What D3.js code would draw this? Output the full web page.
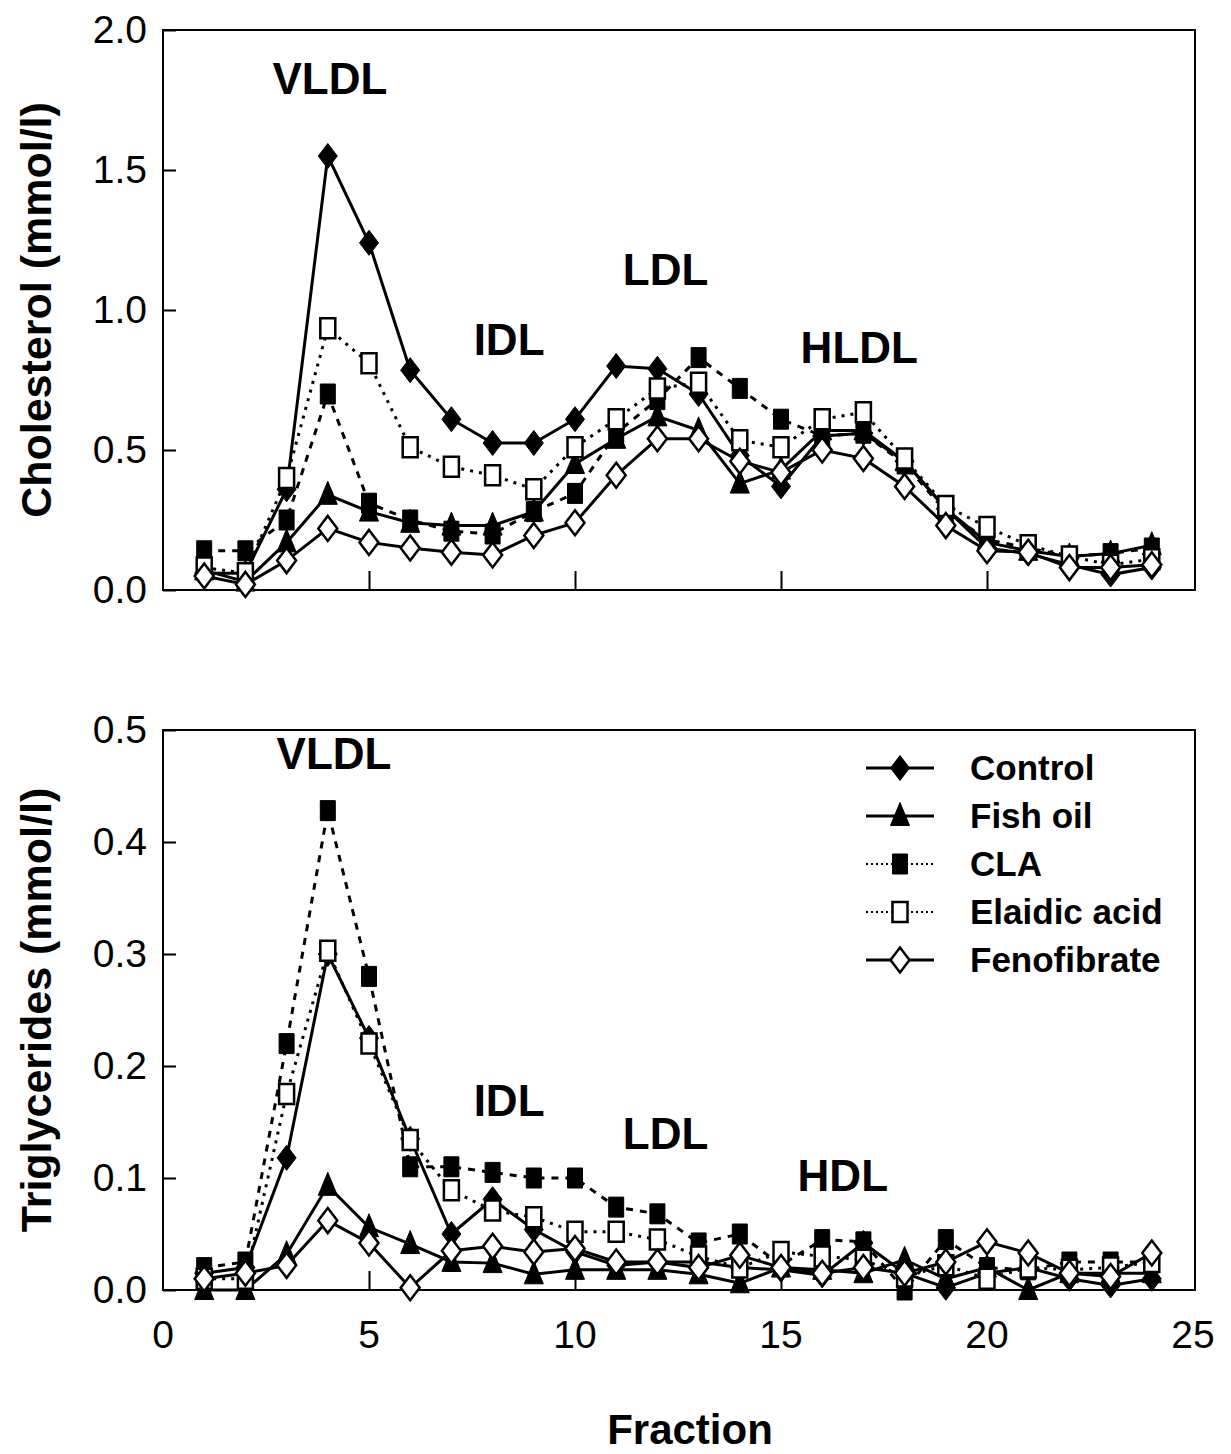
<!DOCTYPE html>
<html>
<head>
<meta charset="utf-8">
<script src="https://cdn.jsdelivr.net/npm/d3@7"></script>
<style>
  html, body { margin: 0; padding: 0; background: #fff; }
  svg { display: block; }
  text { font-family: "Liberation Sans", Arial, sans-serif; fill: #000; }
</style>
</head>
<body>
<script>
// ---------------- DATA ----------------
const fractions = [1,2,3,4,5,6,7,8,9,10,11,12,13,14,15,16,17,18,19,20,21,22,23,24];
const seriesNames = ["Control", "Fish oil", "CLA", "Elaidic acid", "Fenofibrate"];

// Cholesterol (mmol/l)
const cholControl     = [0.06,0.06,0.36,1.55,1.24,0.785,0.61,0.525,0.525,0.61,0.80,0.79,0.70,0.48,0.37,0.55,0.56,0.46,0.29,0.15,0.13,0.09,0.055,0.08];
const cholFishOil     = [0.07,0.03,0.17,0.34,0.28,0.24,0.23,0.23,0.28,0.45,0.54,0.62,0.57,0.38,0.43,0.57,0.57,0.46,0.29,0.17,0.14,0.12,0.13,0.16];
const cholCLA         = [0.14,0.14,0.25,0.70,0.31,0.25,0.21,0.20,0.28,0.345,0.56,0.68,0.83,0.72,0.61,0.55,0.56,0.45,0.28,0.18,0.15,0.12,0.13,0.15];
const cholElaidic     = [0.08,0.06,0.40,0.935,0.81,0.51,0.44,0.41,0.36,0.51,0.61,0.72,0.74,0.535,0.51,0.61,0.635,0.47,0.30,0.225,0.16,0.12,0.09,0.11];
const cholFenofibrate = [0.05,0.02,0.105,0.22,0.17,0.15,0.135,0.125,0.195,0.24,0.41,0.54,0.54,0.46,0.42,0.50,0.47,0.37,0.23,0.14,0.135,0.08,0.08,0.09];

// Triglycerides (mmol/l)
const tgControl     = [0.015,0.02,0.118,0.30,0.225,0.135,0.05,0.081,0.054,0.034,0.022,0.025,0.025,0.02,0.018,0.013,0.042,0.015,0.002,0.015,0.02,0.01,0.004,0.01];
const tgFishOil     = [0.0,0.0,0.032,0.093,0.056,0.041,0.025,0.024,0.014,0.018,0.018,0.018,0.014,0.006,0.02,0.018,0.015,0.027,0.01,0.02,0.0,0.015,0.015,0.015];
const tgCLA         = [0.02,0.025,0.22,0.428,0.28,0.11,0.11,0.105,0.10,0.10,0.074,0.068,0.042,0.05,0.022,0.045,0.043,0.0,0.045,0.02,0.018,0.025,0.025,0.025];
const tgElaidic     = [0.01,0.01,0.175,0.303,0.22,0.134,0.089,0.071,0.065,0.052,0.052,0.045,0.03,0.02,0.034,0.03,0.027,0.012,0.022,0.01,0.02,0.018,0.02,0.025];
const tgFenofibrate = [0.01,0.015,0.022,0.062,0.042,0.002,0.035,0.039,0.034,0.037,0.025,0.025,0.02,0.031,0.02,0.015,0.02,0.015,0.025,0.043,0.033,0.015,0.012,0.033];

const xTicks = [0,5,10,15,20,25];
const cholTicks = [0.0,0.5,1.0,1.5,2.0];
const tgTicks = [0.0,0.1,0.2,0.3,0.4,0.5];

const cholLabels = [{t:"VLDL", x:4.05, y:1.77},{t:"IDL", x:8.4, y:0.84},{t:"LDL", x:12.2, y:1.09},{t:"HLDL", x:16.9, y:0.81}];
const tgLabels = [{t:"VLDL", x:4.15, y:0.465},{t:"IDL", x:8.4, y:0.155},{t:"LDL", x:12.2, y:0.126},{t:"HDL", x:16.5, y:0.088}];

// ---------------- STYLE ----------------
const W = 1231, H = 1454;
const left = 163, right = 1195;
const styles = {
  "Control":      {marker:"diamond",  fill:"#000", dash:null},
  "Fish oil":     {marker:"triangle", fill:"#000", dash:null},
  "CLA":          {marker:"square",   fill:"#000", dash:"7,7"},
  "Elaidic acid": {marker:"square",   fill:"#fff", dash:"3,6"},
  "Fenofibrate":  {marker:"diamond",  fill:"#fff", dash:null}
};

const svg = d3.select("body").append("svg").attr("width", W).attr("height", H);

const x = d3.scaleLinear().domain([0,25]).range([left, 1193]);

function markerPath(type) {
  if (type === "diamond") return "M0,-12.5L9.5,0L0,12.5L-9.5,0Z";
  if (type === "triangle") return "M0,-13.5L9.5,9.5L-9.5,9.5Z";
  return "M-7.5,-10L7.5,-10L7.5,10L-7.5,10Z";
}

function drawPanel(opts) {
  const {top, bottom, yMax, ticks, fmt, data, labels, title, showX} = opts;
  const y = d3.scaleLinear().domain([0, yMax]).range([bottom, top]);
  const g = svg.append("g");

  // frame
  g.append("rect").attr("x", left).attr("y", top).attr("width", right-left).attr("height", bottom-top)
    .attr("fill", "none").attr("stroke", "#000").attr("stroke-width", 2);

  // y axis
  const yAxis = d3.axisLeft(y).tickValues(ticks).tickFormat(fmt).tickSizeInner(-13).tickSizeOuter(0).tickPadding(16);
  const ya = g.append("g").attr("transform", `translate(${left},0)`).call(yAxis);
  ya.select(".domain").remove();
  ya.selectAll("line").attr("stroke", "#000").attr("stroke-width", 2);
  ya.selectAll("text").attr("font-size", 39).attr("font-family", "Liberation Sans, Arial, sans-serif").attr("fill", "#000");

  // x axis
  const xAxis = d3.axisBottom(x).tickValues(xTicks.filter(v => v > 0 && v < 25)).tickSizeInner(-19).tickSizeOuter(0).tickFormat(showX ? d3.format("d") : () => "");
  const xa = g.append("g").attr("transform", `translate(0,${bottom})`).call(xAxis);
  xa.select(".domain").remove();
  xa.selectAll("line").attr("stroke", "#000").attr("stroke-width", 2);
  xa.selectAll("text").remove();
  if (showX) {
    g.selectAll(".xl").data(xTicks).enter().append("text")
      .attr("x", d => x(d)).attr("y", bottom + 58)
      .attr("text-anchor", "middle").attr("font-size", 39).text(d => d);
  }

  // y title
  g.append("text")
    .attr("transform", `translate(51,${(top+bottom)/2}) rotate(-90)`)
    .attr("text-anchor", "middle").attr("font-weight", "bold").attr("font-size", 43)
    .text(title);

  // series
  const line = d3.line().x((d,i) => x(fractions[i])).y(d => y(d));
  data.forEach((vals, si) => {
    const st = styles[seriesNames[si]];
    g.append("path").datum(vals).attr("d", line)
      .attr("fill", "none").attr("stroke", "#000").attr("stroke-width", 3)
      .attr("stroke-dasharray", st.dash);
    g.selectAll(null).data(vals).enter().append("path")
      .attr("transform", (d,i) => `translate(${x(fractions[i])},${y(d)})`)
      .attr("d", markerPath(st.marker))
      .attr("fill", st.fill).attr("stroke", "#000").attr("stroke-width", st.fill === "#fff" ? 2.5 : 1);
  });

  // region labels
  g.selectAll(null).data(labels).enter().append("text")
    .attr("x", d => x(d.x)).attr("y", d => y(d.y))
    .attr("text-anchor", "middle").attr("font-weight", "bold").attr("font-size", 44)
    .text(d => d.t);

  return y;
}

drawPanel({top:30, bottom:590, yMax:2.0, ticks:cholTicks, fmt:d3.format(".1f"),
  data:[cholControl, cholFishOil, cholCLA, cholElaidic, cholFenofibrate],
  labels:cholLabels, title:"Cholesterol (mmol/l)", showX:false});

drawPanel({top:730, bottom:1290, yMax:0.5, ticks:tgTicks, fmt:d3.format(".1f"),
  data:[tgControl, tgFishOil, tgCLA, tgElaidic, tgFenofibrate],
  labels:tgLabels, title:"Triglycerides (mmol/l)", showX:true});

// x title
svg.append("text").attr("x", 690).attr("y", 1444).attr("text-anchor", "middle")
  .attr("font-weight", "bold").attr("font-size", 42).text("Fraction");

// legend
const legendDash = {"Control":null, "Fish oil":null, "CLA":"2,3", "Elaidic acid":"2,3", "Fenofibrate":null};
const lg = svg.append("g");
seriesNames.forEach((name, i) => {
  const ly = 768 + i*48;
  const st = styles[name];
  lg.append("line").attr("x1", 866).attr("x2", 934).attr("y1", ly).attr("y2", ly)
    .attr("stroke", "#000").attr("stroke-width", legendDash[name] ? 2 : 3)
    .attr("stroke-dasharray", legendDash[name]);
  lg.append("path").attr("transform", `translate(900,${ly})`).attr("d", markerPath(st.marker))
    .attr("fill", st.fill).attr("stroke", "#000").attr("stroke-width", st.fill === "#fff" ? 2.5 : 1);
  lg.append("text").attr("x", 970).attr("y", ly + 12).attr("font-weight", "bold").attr("font-size", 35).text(name);
});
</script>
</body>
</html>
